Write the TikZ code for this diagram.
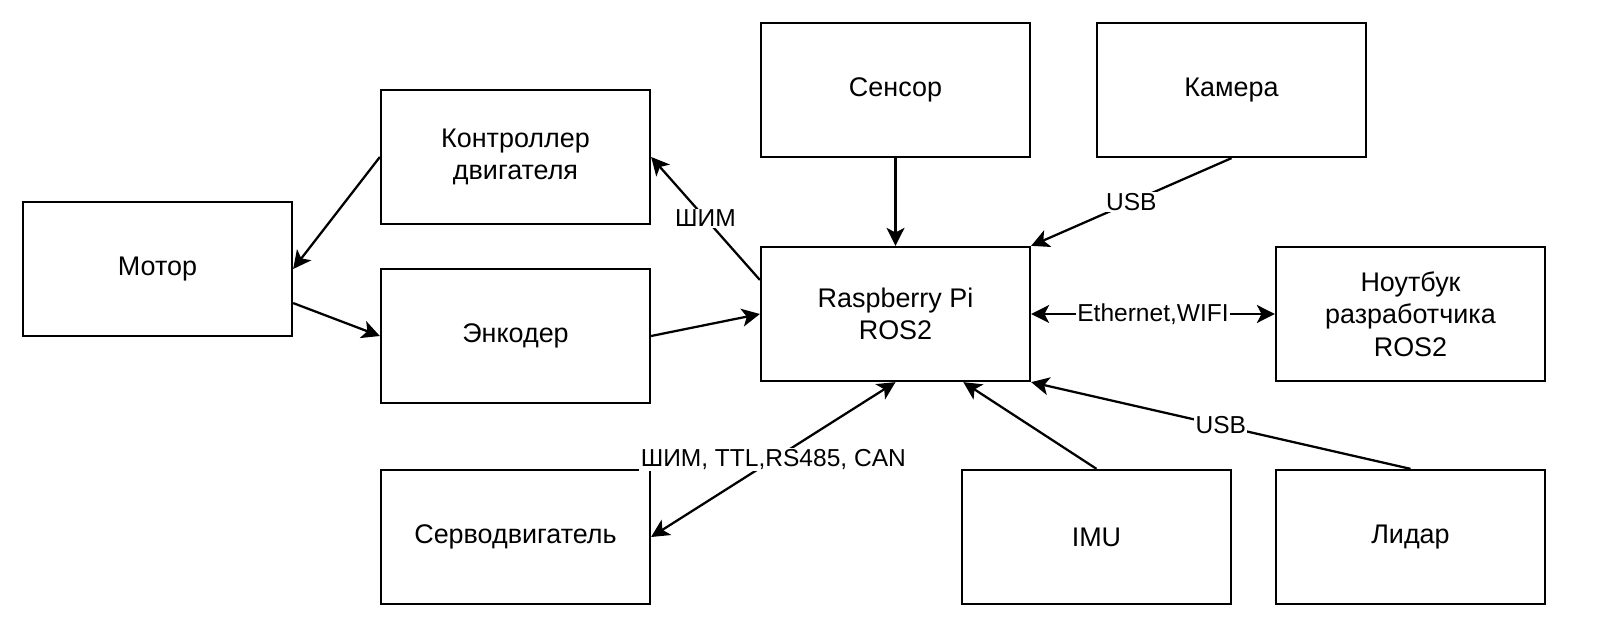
\documentclass[tikz,border=0pt]{standalone}
\usepackage{fontspec}
\setmainfont{Liberation Sans}
\usetikzlibrary{arrows.meta,calc}
\begin{document}
\begin{tikzpicture}[x=0.75pt,y=-0.75pt,
  box/.style={draw,line width=1.7pt,rectangle,minimum width=201.75pt,minimum height=100.5pt,inner sep=0pt,align=center,font=\fontsize{20.2}{24.5}\selectfont},
  conn/.style={line width=1.7pt,-{Stealth[length=13.5pt,width=13.5pt,inset=3.5pt]}},
  bconn/.style={line width=1.7pt,{Stealth[length=13.5pt,width=13.5pt,inset=3.5pt]}-{Stealth[length=13.5pt,width=13.5pt,inset=3.5pt]}},
  lab/.style={fill=white,inner sep=1pt,font=\fontsize{18.4}{22}\selectfont}]
\useasboundingbox (0,0) rectangle (1600,641);
\node[box] (motor) at (157.5,269) {Мотор};
\node[box] (ctrl) at (515.5,157) {Контроллер\\двигателя};
\node[box] (enc) at (515.5,336) {Энкодер};
\node[box] (servo) at (515.5,537) {Серводвигатель};
\node[box] (sensor) at (895.5,90) {Сенсор};
\node[box] (cam) at (1231.5,90) {Камера};
\node[box] (rpi) at (895.5,314) {Raspberry Pi\\ROS2};
\node[box] (laptop) at (1410.5,314) {Ноутбук\\разработчика\\ROS2};
\node[box] (imu) at (1096.5,537) {IMU};
\node[box] (lidar) at (1410.5,537) {Лидар};

\draw[conn] (ctrl.west) -- (motor.east);
\draw[conn] ($(motor.north east)!0.75!(motor.south east)$) -- (enc.west);
\draw[conn] (enc.east) -- ($(rpi.north west)!0.5!(rpi.south west)$);
\draw[conn] ($(rpi.north west)!0.25!(rpi.south west)$) -- node[lab] {ШИМ} (ctrl.east);
\draw[conn] (sensor.south) -- (rpi.north);
\draw[conn] (cam.south) -- node[lab] {USB} (rpi.north east);
\draw[bconn] (rpi.east) -- node[lab] {Ethernet,WIFI} (laptop.west);
\draw[conn] (imu.north) -- ($(rpi.south west)!0.75!(rpi.south east)$);
\draw[conn] (lidar.north) -- node[lab] {USB} (rpi.south east);
\draw[bconn] (rpi.south) -- node[lab] {ШИМ, TTL,RS485, CAN} (servo.east);
\end{tikzpicture}
\end{document}
